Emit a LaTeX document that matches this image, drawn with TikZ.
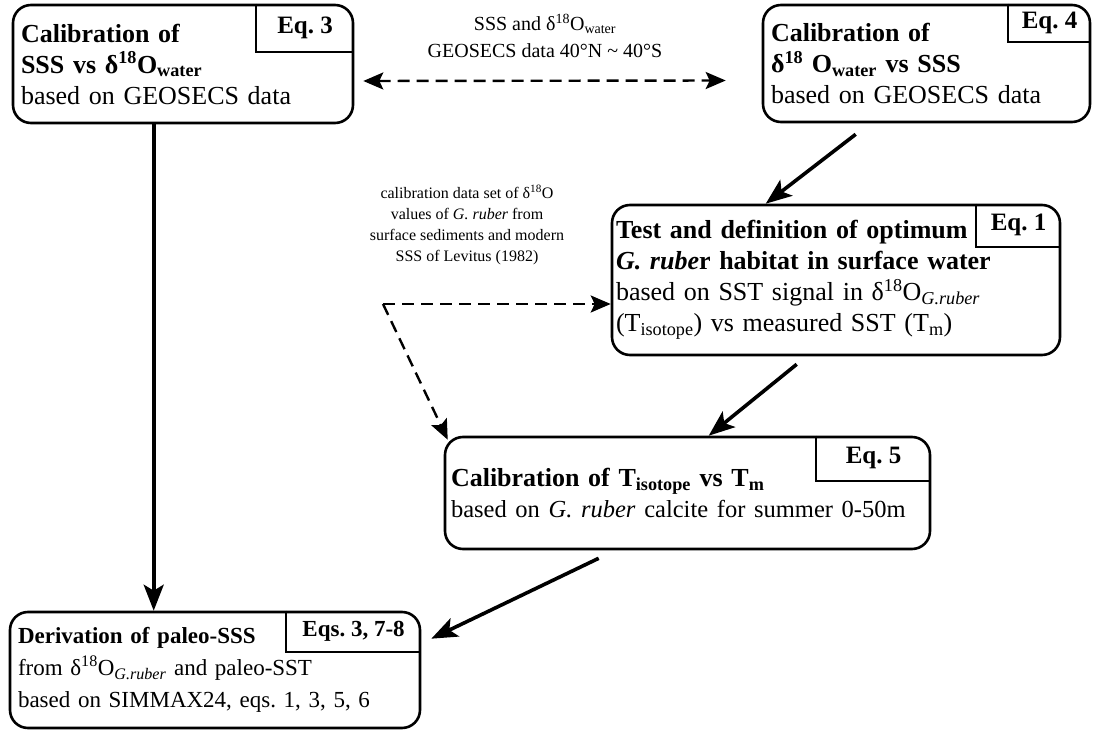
\documentclass[tikz,border=0pt]{standalone}
\usepackage{fontspec}
\setmainfont{Liberation Serif}
\usetikzlibrary{arrows.meta,calc}
\frenchspacing

\begin{document}
\begin{tikzpicture}[x=1pt,y=-1pt,
	box/.style={draw,line width=2.6pt,rounded corners=18pt,inner xsep=8pt,align=left,font=\fontsize{26}{31}\selectfont},
	eq/.style={anchor=north east,inner sep=0pt,font=\fontsize{25}{28}\selectfont\bfseries},
	eqline/.style={line width=2.2pt},
	flow/.style={line width=3.6pt,-{Stealth[length=26pt,width=20pt,inset=6pt]}},
	dashflow/.style={line width=2.4pt,dash pattern=on 12pt off 7pt},
	>={Stealth[length=20pt,width=17pt,inset=4pt]}]
	\useasboundingbox (0,0) rectangle (1093,733);
	\node[box,text width=324pt,minimum height=118pt] (box1) at (183,64)
		{\textbf{Calibration of}\\\textbf{SSS vs δ\textsuperscript{18}O\textsubscript{water}}\\based on GEOSECS data};
	\node[box,text width=311pt,minimum height=117pt] (box2) at (926.5,63.5)
		{\textbf{Calibration of}\\\textbf{δ\textsuperscript{18} O\textsubscript{water} vs SSS}\\based on GEOSECS data};
	\node[box,inner xsep=4pt,text width=440pt,minimum height=150pt] (test) at (836,280)
		{\textbf{Test and definition of optimum}\\\textbf{\textit{G. rube}r habitat in surface water}\\based on SST signal in δ\textsuperscript{18}O\textsubscript{\textit{G.ruber}}\\(T\textsubscript{isotope}) vs measured SST (T\textsubscript{m})};
	\node[box,inner xsep=6pt,text width=473pt,minimum height=112pt] (calT) at (687.5,493)
		{\textbf{Calibration of T\textsubscript{isotope} vs T\textsubscript{m}}\\{\fontsize{24.5}{31}\selectfont based on \textit{G. ruber} calcite for summer \mbox{0-50m}}\\[6pt]};
	\node[box,text width=394pt,minimum height=116pt,font=\fontsize{23}{32}\selectfont] (deriv) at (215,670)
		{\textbf{Derivation of paleo-SSS}\\from δ\textsuperscript{18}O\textsubscript{\textit{G.ruber}} and paleo-SST\\based on SIMMAX24, eqs. 1, 3, 5, 6};
	\node[eq,minimum width=98pt,minimum height=48pt] (eq3) at (box1.north east) {Eq. 3};
	\node[eq,minimum width=83pt,minimum height=38pt] (eq4) at (box2.north east) {Eq. 4};
	\node[eq,minimum width=85pt,minimum height=43pt] (eq1) at (test.north east) {Eq. 1};
	\node[eq,minimum width=115pt,minimum height=45pt] (eq5) at (calT.north east) {Eq. 5};
	\node[eq,minimum width=135pt,minimum height=41pt,font=\fontsize{23}{26}\selectfont\bfseries] (eqs) at (deriv.north east) {Eqs. 3, 7-8};
	\foreach \e in {eq3,eq4,eq1,eq5,eqs} \draw[eqline] (\e.north west) |- (\e.south east);
	\node[align=center,font=\fontsize{20}{27}\selectfont] (geo) at (545,36)
		{SSS and δ\textsuperscript{18}O\textsubscript{water}\\GEOSECS data 40°N \textasciitilde{} 40°S};
	\node[align=center,font=\fontsize{16}{21}\selectfont] (note) at (467,225)
		{calibration data set of δ\textsuperscript{18}O\\values of \textit{G. ruber} from\\surface sediments and modern\\SSS of Levitus (1982)};
	\coordinate (fork) at (383,304);
	\draw[dashflow,<->] ($(box1.east)+(9,17)$) -- ($(box2.west)+(-36,17)$);
	\draw[dashflow,->] (fork) -- (fork -| test.west);
	\draw[dashflow,->] (fork) -- ($(calT.north west)+(4,4)$);
	\draw[flow] ($(box1.south west)+(142,0)$) -- ($(deriv.north west)+(145,0)$);
	\draw[flow] ($(box2.south west)+(94,11)$) -- ($(test.north west)+(155,0)$);
	\draw[flow] ($(test.south west)+(186,8)$) -- ($(calT.north west)+(265,0)$);
	\draw[flow] ($(calT.south west)+(155,8)$) -- ($(deriv.north east)+(10,28)$);
\end{tikzpicture}
\end{document}
